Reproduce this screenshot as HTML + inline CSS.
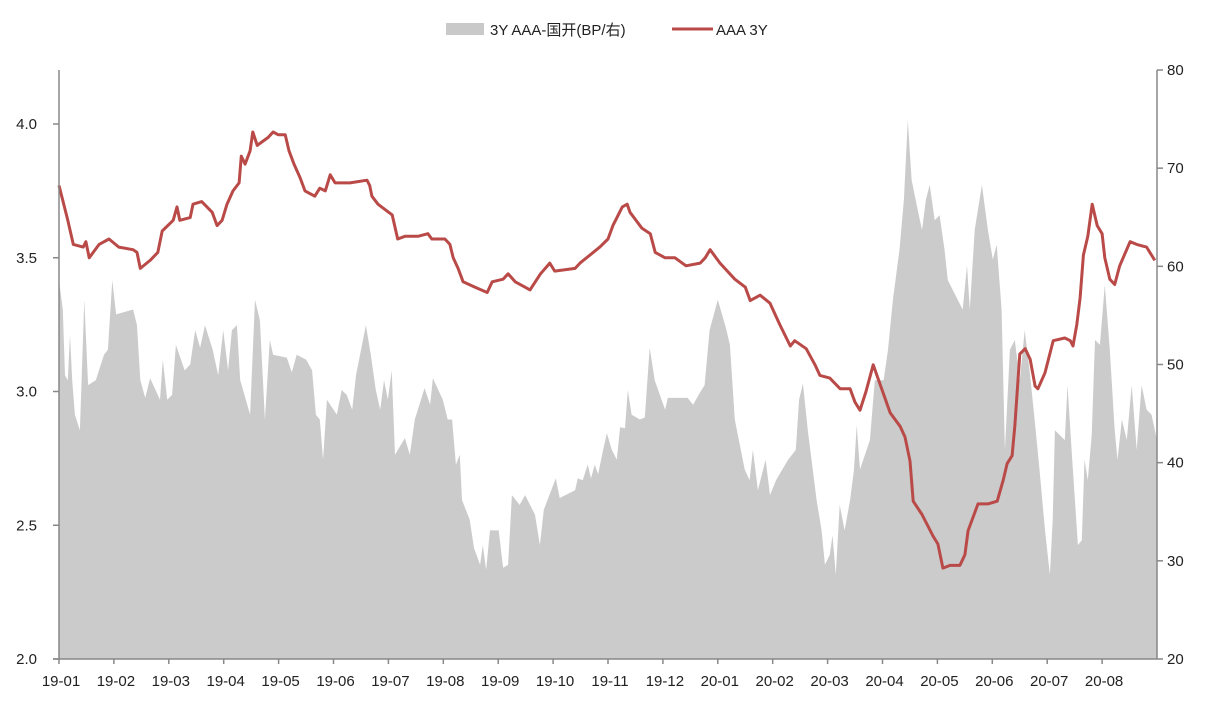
<!DOCTYPE html>
<html><head><meta charset="utf-8"><style>
html,body{margin:0;padding:0;background:#fff;}
svg{display:block;font-family:"Liberation Sans","Noto Sans CJK SC",sans-serif;}
</style></head><body>
<svg id="chart" width="1210" height="709" viewBox="0 0 1210 709" xmlns="http://www.w3.org/2000/svg">
<g id="legend">
  <rect x="446" y="23" width="38" height="12" fill="#c9c9c9"/>
  <text x="490" y="35" font-size="15" fill="#222">3Y AAA-国开(BP/右)</text>
  <line x1="672" y1="29" x2="713" y2="29" stroke="#b94a48" stroke-width="3"/>
  <text x="716" y="35" font-size="15" fill="#222">AAA 3Y</text>
</g>
<g id="area"></g>
<g id="line"></g>
<g id="axes"></g>
</svg>
<script>
const xLabels=["19-01","19-02","19-03","19-04","19-05","19-06","19-07","19-08","19-09","19-10","19-11","19-12","20-01","20-02","20-03","20-04","20-05","20-06","20-07","20-08"];
const leftTicks=[2.0,2.5,3.0,3.5,4.0];
const rightTicks=[20,30,40,50,60,70,80];
// months since 2019-01 and values
const lineMonths=[0,.16,.26,.44,.49,.55,.73,.91,1.09,1.35,1.42,1.48,1.66,1.80,1.88,2.08,2.15,2.20,2.39,2.44,2.60,2.79,2.88,2.97,3.06,3.17,3.28,3.32,3.39,3.48,3.53,3.61,3.81,3.90,3.99,4.12,4.19,4.28,4.39,4.48,4.66,4.75,4.85,4.94,5.03,5.30,5.61,5.66,5.70,5.81,6.07,6.17,6.30,6.54,6.72,6.79,7.03,7.12,7.18,7.27,7.36,7.58,7.80,7.89,8.09,8.18,8.31,8.49,8.58,8.77,8.94,9.03,9.40,9.49,9.85,10.0,10.09,10.26,10.35,10.40,10.62,10.77,10.86,11.04,11.22,11.42,11.68,11.77,11.86,12.04,12.31,12.50,12.59,12.77,12.95,13.13,13.32,13.40,13.61,13.77,13.86,14.04,14.23,14.41,14.50,14.59,14.70,14.83,14.95,15.14,15.32,15.41,15.50,15.56,15.72,15.92,16.01,16.10,16.23,16.41,16.50,16.56,16.74,16.92,17.09,17.20,17.27,17.36,17.41,17.50,17.60,17.69,17.78,17.83,17.96,18.11,18.32,18.42,18.47,18.54,18.60,18.66,18.74,18.82,18.91,19.00,19.05,19.14,19.23,19.32,19.51,19.63,19.81,19.96];
const lineValues=[3.77,3.64,3.55,3.54,3.56,3.50,3.55,3.57,3.54,3.53,3.52,3.46,3.49,3.52,3.60,3.64,3.69,3.64,3.65,3.70,3.71,3.67,3.62,3.64,3.70,3.75,3.78,3.88,3.85,3.90,3.97,3.92,3.95,3.97,3.96,3.96,3.90,3.85,3.80,3.75,3.73,3.76,3.75,3.81,3.78,3.78,3.79,3.77,3.73,3.70,3.66,3.57,3.58,3.58,3.59,3.57,3.57,3.55,3.50,3.46,3.41,3.39,3.37,3.41,3.42,3.44,3.41,3.39,3.38,3.44,3.48,3.45,3.46,3.48,3.54,3.57,3.62,3.69,3.70,3.67,3.61,3.59,3.52,3.50,3.50,3.47,3.48,3.50,3.53,3.48,3.42,3.39,3.34,3.36,3.33,3.25,3.17,3.19,3.16,3.10,3.06,3.05,3.01,3.01,2.96,2.93,3.00,3.10,3.03,2.92,2.87,2.83,2.74,2.59,2.54,2.46,2.43,2.34,2.35,2.35,2.39,2.48,2.58,2.58,2.59,2.67,2.73,2.76,2.87,3.14,3.16,3.12,3.02,3.01,3.07,3.19,3.20,3.19,3.17,3.25,3.35,3.51,3.58,3.70,3.62,3.59,3.50,3.42,3.40,3.47,3.56,3.55,3.54,3.49];
const areaMonths=[0,.07,.11,.16,.20,.24,.29,.38,.46,.53,.67,.82,.89,.97,1.04,1.35,1.42,1.48,1.57,1.66,1.84,1.89,1.97,2.06,2.13,2.29,2.39,2.48,2.57,2.66,2.80,2.90,2.99,3.08,3.15,3.24,3.30,3.48,3.57,3.66,3.75,3.84,3.90,4.15,4.24,4.33,4.50,4.61,4.68,4.75,4.81,4.88,5.06,5.15,5.24,5.34,5.41,5.59,5.68,5.77,5.85,5.92,5.99,6.06,6.12,6.30,6.39,6.48,6.66,6.76,6.81,6.99,7.08,7.16,7.23,7.30,7.34,7.48,7.56,7.67,7.72,7.78,7.85,8.01,8.09,8.18,8.25,8.39,8.49,8.67,8.76,8.83,8.98,9.05,9.12,9.40,9.45,9.54,9.63,9.69,9.76,9.82,9.91,9.98,10.07,10.16,10.22,10.31,10.36,10.43,10.58,10.67,10.76,10.85,11.04,11.09,11.45,11.55,11.67,11.76,11.85,12.0,12.15,12.22,12.31,12.49,12.58,12.64,12.73,12.87,12.95,13.06,13.28,13.42,13.48,13.55,13.64,13.80,13.89,13.95,14.04,14.09,14.15,14.22,14.31,14.41,14.48,14.53,14.59,14.77,14.86,15.02,15.10,15.19,15.31,15.39,15.46,15.53,15.64,15.72,15.79,15.86,15.95,16.04,16.13,16.19,16.37,16.46,16.54,16.59,16.68,16.81,16.92,17.01,17.08,17.17,17.23,17.32,17.41,17.50,17.59,17.68,17.77,17.86,17.96,18.05,18.10,18.14,18.32,18.37,18.45,18.56,18.63,18.68,18.74,18.81,18.87,18.96,19.05,19.14,19.23,19.28,19.36,19.45,19.54,19.63,19.72,19.81,19.90,20.0];
const areaValues=[58.6,55.6,48.9,48.4,53.0,48.4,44.9,43.3,56.6,47.9,48.4,51.0,51.5,58.6,55.1,55.6,54.0,48.4,46.6,48.6,46.4,50.5,46.4,46.9,52.0,49.4,50.0,53.5,51.7,54.0,51.5,48.9,53.5,49.4,53.5,54.0,48.4,44.9,56.6,54.5,44.4,52.5,51.0,50.7,49.2,51.0,50.5,49.4,44.9,44.4,40.3,46.4,44.9,47.4,46.9,45.4,48.9,54.0,51.0,47.4,45.4,48.4,46.4,49.4,40.8,42.5,40.8,44.4,47.6,45.9,48.6,46.4,44.4,44.4,39.8,40.8,36.2,34.2,31.3,29.6,31.6,29.1,33.1,33.1,29.3,29.6,36.7,35.7,36.7,34.7,31.6,35.2,37.4,38.4,36.4,37.2,38.4,38.2,39.8,38.4,39.8,38.8,41.3,43.0,41.3,40.3,43.6,43.5,47.4,44.9,44.4,44.6,51.7,48.4,45.4,46.6,46.6,45.9,47.1,47.9,53.5,56.6,53.7,52.0,44.4,39.3,38.2,41.3,37.2,40.3,36.7,38.2,40.3,41.3,46.4,48.1,43.3,36.2,33.1,29.6,30.6,32.6,28.6,35.7,33.1,36.2,39.3,43.8,39.3,42.3,48.4,48.4,51.5,56.6,61.7,66.8,74.9,68.8,65.8,63.7,66.8,68.3,64.7,65.2,61.7,58.6,56.6,55.6,60.1,55.6,63.7,68.3,63.7,60.7,62.2,55.6,41.3,51.5,52.5,48.4,53.5,49.4,44.4,39.3,33.1,28.6,34.2,43.3,42.3,47.9,40.8,31.6,32.1,40.3,38.2,42.8,52.5,52.0,58.1,51.5,43.3,40.3,44.4,42.3,47.9,41.3,47.9,45.4,44.9,42.3];

const NS="http://www.w3.org/2000/svg";
const X0=59,X1=1157,Y0=659;
const xS=m=>X0+m*(X1-X0)/20;
const yL=v=>Y0-(v-2)*(659-124)/2;
const yR=v=>Y0-(v-20)*(659-70)/60;
function mk(tag,attrs,parent){const e=document.createElementNS(NS,tag);for(const k in attrs)e.setAttribute(k,attrs[k]);parent.appendChild(e);return e;}

const area=document.getElementById('area');
let d=`M${xS(areaMonths[0])},${Y0}`;
areaMonths.forEach((m,i)=>{d+=` L${xS(m).toFixed(1)},${yR(areaValues[i]).toFixed(1)}`;});
d+=` L${xS(areaMonths[areaMonths.length-1])},${Y0} Z`;
const ap=mk('path',{d:d,fill:'#cbcbcb'},area);



const lg=document.getElementById('line');
const pts=lineMonths.map((m,i)=>`${xS(m).toFixed(1)},${yL(lineValues[i]).toFixed(1)}`).join(' ');
const pl=mk('polyline',{points:pts,fill:'none',stroke:'#b94a48','stroke-width':3,'stroke-linejoin':'round'},lg);



const ax=document.getElementById('axes');
const la=mk('line',{x1:X0,y1:70,x2:X0,y2:Y0,stroke:'#888','stroke-width':1.5},ax);


const ra=mk('line',{x1:X1,y1:70,x2:X1,y2:Y0,stroke:'#888','stroke-width':1.5},ax);


const xa=mk('line',{x1:X0-6,y1:Y0,x2:X1,y2:Y0,stroke:'#888','stroke-width':1.5},ax);


leftTicks.forEach(v=>{
  const tk=mk('line',{x1:X0-6,y1:yL(v),x2:X0,y2:yL(v),stroke:'#888','stroke-width':1.5},ax);
  
  
  const t=mk('text',{x:37,y:yL(v)+5,'font-size':15,'text-anchor':'end',fill:'#222'},ax);
  t.textContent=v.toFixed(1);
  
  
});
rightTicks.forEach(v=>{
  const tk=mk('line',{x1:X1,y1:yR(v),x2:X1+6,y2:yR(v),stroke:'#888','stroke-width':1.5},ax);
  
  
  const t=mk('text',{x:1167,y:yR(v)+5,'font-size':15,fill:'#222'},ax);
  t.textContent=String(v);
  
  
});
xLabels.forEach((s,i)=>{
  const x=xS(i);
  const tk=mk('line',{x1:x,y1:Y0,x2:x,y2:Y0+5,stroke:'#888','stroke-width':1.5},ax);
  
  
  const t=mk('text',{x:x+2,y:Y0+27,'font-size':15,'text-anchor':'middle',fill:'#222'},ax);
  t.textContent=s;
  
  
});
</script>
</body></html>
